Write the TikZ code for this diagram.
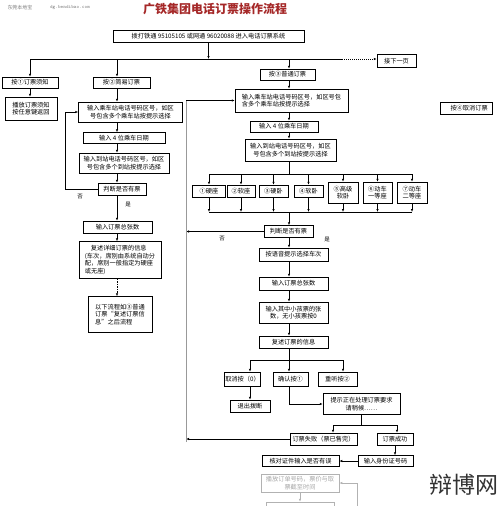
\documentclass[tikz,border=0pt]{standalone}
\usepackage{fontspec}
\usetikzlibrary{arrows.meta}
\newfontfamily\cjk{Noto Sans CJK SC}
\definecolor{titlered}{RGB}{165,40,40}

\begin{document}
\begin{tikzpicture}[x=1pt, y=-1pt,
    box/.style={draw, line width=.5pt, inner sep=1pt, align=center,
      font=\cjk\fontsize{6.2}{7.4}\selectfont},
    sz/.style 2 args={minimum width=#1pt, minimum height=#2pt},
    arr/.style={-{Latex[length=3pt,width=2.4pt]}, line width=.6pt},
    lbl/.style={font=\cjk\fontsize{5.5}{6}\selectfont},
    faded/.style={box, draw=black!30, text=black!35}]
    \useasboundingbox (0,0) rectangle (500,506);
    \clip (0,0) rectangle (500,506);

    % heading
    \node[font=\cjk\fontsize{5}{6}\selectfont, text=black!50] (site) at (20,8) {东莞本地宝};
    \node[font=\ttfamily\fontsize{5}{6}\selectfont, text=black!50] (url) at (70,8) {dg.bendibao.com};
    \node[font=\cjk\bfseries\fontsize{12}{14}\selectfont, text=titlered] (title) at (215,9)
      {广铁集团电话订票操作流程};

    \node[box, sz={191}{12}] (top) at (208.5,36)
      {拨打铁通 95105105 或网通 96020088 进入电话订票系统};
    \node[box, sz={39}{13}] (next) at (396.5,61) {接下一页};
    \node[box, sz={52}{12}] (cancel) at (466,108) {\quad 按④取消订票};

    % left columns
    \node[box, sz={56}{11}] (n1) at (30,82.5) {按①订票须知};
    \node[box, sz={52}{23}] (n1b) at (31,108.5) {播放订票须知\\按任意键返回};
    \node[box, sz={57}{11}] (s1) at (121.5,82.5) {按②简易订票};
    \node[box, sz={104}{20}] (s2) at (130.5,112)
      {输入乘车站电话号码区号，如区\\号包含多个乘车站按提示选择};
    \node[box, sz={82}{11}] (s3) at (124,138) {输入 4 位乘车日期};
    \node[box, sz={90}{20}] (s4) at (124,163)
      {输入到站电话号码区号，如区\\号包含多个到站按提示选择};
    \node[box, sz={48}{12}] (s5) at (122,189) {判断是否有票};
    \node[box, sz={69}{12}] (s6) at (117.5,227) {输入订票总张数};
    \node[box, sz={82}{37}, align=left] (s7) at (120,260)
      {\hspace*{6pt}复述详细订票的信息\\(车次，席别由系统自动分\\配，席别一般指定为硬座\\或无座)};
    \node[box, sz={64}{36}, align=left] (s8) at (120,314.5)
      {以下流程如③普通\\订票“复述订票信\\息”之后流程};

    % right column
    \node[box, sz={55}{11}] (r1) at (287.5,74.5) {按③普通订票};
    \node[box, sz={113}{23}, align=left] (r2) at (291.5,100.5)
      {输入乘车站电话号码区号，如区号包\\含多个乘车站按提示选择};
    \node[box, sz={68}{11}] (r3) at (284,126.5) {输入 4 位乘车日期};
    \node[box, sz={91}{22}] (r4) at (290.5,150)
      {输入到站电话号码区号，如区\\号包含多个到站按提示选择};
    \foreach \n/\x/\w/\h/\y/\t in {b1/209/33/12/191/{①硬座}, b2/241/28/12/191/{②软座},
      b3/273.5/29/12/191/{③硬卧}, b4/308.5/29/12/191/{④软卧},
      b5/343/30/21/192.5/{⑤高级\\软卧}, b6/377.5/29/21/192.5/{⑥动车\\一等座},
      b7/412/30/21/192.5/{⑦动车\\二等座}} {
      \node[box, sz={\w}{\h}] (\n) at (\x,\y) {\t};
    }
    \node[box, sz={49}{12}] (r5) at (288.5,231.5) {判断是否有票};
    \node[box, sz={69}{13}] (r6) at (293.5,254.5) {按语音提示选择车次};
    \node[box, sz={69}{13}] (r7) at (293.5,283.5) {输入订票总张数};
    \node[box, sz={69}{21}] (r8) at (293.5,312.5) {输入其中小孩票的张\\数，无小孩票按0};
    \node[box, sz={69}{12}] (r9) at (293.5,342) {复述订票的信息};
    \node[box, sz={35}{14}] (c1) at (242.5,379) {取消按（0）};
    \node[box, sz={35}{14}] (c2) at (290.5,379) {确认按①};
    \node[box, sz={39}{14}] (c3) at (337.5,379) {重听按②};
    \node[box, sz={40}{12}] (quit) at (250,406) {退出拨断};
    \node[box, sz={77}{21}] (proc) at (361.5,404) {提示正在处理订票要求\\请稍候……};
    \node[box, sz={67}{12}] (f1) at (323.5,439) {订票失败（票已售完）};
    \node[box, sz={36}{12}] (f2) at (395,439) {订票成功};
    \node[box, sz={55}{11}] (id) at (385.5,461) {输入身份证号码};
    \node[box, sz={77}{11}] (chk) at (300.5,461) {核对证件输入是否有误};
    \node[faded, sz={78}{18}] (play) at (300,483) {播放订单号码，票价与取\\票截至时间};
    \node[faded, sz={68}{16}] (more) at (300,510) {};

    \node[lbl] (no1) at (80,197) {否};
    \node[lbl] (yes1) at (128,205) {是};
    \node[lbl] (no2) at (222,239) {否};
    \node[lbl] (yes2) at (327,240) {是};
    \node[font=\cjk\fontsize{23}{25}\selectfont, text=black!80] (mark) at (464,485) {辩博网};

    % connectors
    \coordinate (hl) at (30,59);
    \coordinate (hr) at (342,59);
    \coordinate (sp1) at (117,0);
    \coordinate (sp2) at (289,0);
    \coordinate (lp) at (65,0);
    \coordinate (ret) at (186,442);
    \coordinate (br) at (0,174);
    \coordinate (mg) at (0,212);
    \coordinate (k1) at (250,360);
    \coordinate (k2) at (289,360);
    \coordinate (k3) at (343,360);
    \coordinate (j1) at (333,425);
    \coordinate (j2) at (397,425);
    \coordinate (gl) at (357,506);

    \draw[arr] (top.south) -- (top.south |- hl);
    \draw[line width=.6pt] (hl) -- (hr);
    \draw[arr, dash pattern=on 1pt off 1pt] (hr) -- (hr -| next.west);
    \draw[arr] (hl) -- (hl |- n1.north);
    \draw[arr] (hl -| sp1) -- (s1.north -| sp1);
    \draw[arr] (hl -| sp2) -- (r1.north -| sp2);

    \draw[arr] (n1.south) -- (n1.south |- n1b.north);
    \draw[arr] (s1.south -| sp1) -- (s2.north -| sp1);
    \draw[arr] (s2.south -| sp1) -- (s3.north -| sp1);
    \draw[arr] (s3.south -| sp1) -- (s4.north -| sp1);
    \draw[arr] (s4.south -| sp1) -- (s5.north -| sp1);
    \draw[arr] (s5.south -| sp1) -- (s6.north -| sp1);
    \draw[arr] (s6.south -| sp1) -- (s7.north -| sp1);
    \draw[arr, dash pattern=on 1.5pt off 1pt] (s7.south -| sp1) -- (s8.north -| sp1);
    \draw[arr] (s5.west) -- (s5.west -| lp) -- (lp |- s2.west) -- (s2.west);

    \draw[arr] (r1.south -| sp2) -- (r2.north -| sp2);
    \draw[arr] (r2.south -| sp2) -- (r3.north -| sp2);
    \draw[arr] (r3.south -| sp2) -- (r4.north -| sp2);
    \draw[line width=.6pt] (r4.south -| sp2) -- (sp2 |- br);
    \draw[line width=.6pt] (b1.north |- br) -- (b7.north |- br);
    \draw[line width=.6pt] (b1.south |- mg) -- (b7.south |- mg);
    \foreach \n in {b1,b2,b3,b4,b5,b6,b7} {
      \draw[arr] (\n.north |- br) -- (\n.north);
      \draw[arr] (\n.south) -- (\n.south |- mg);
    }
    \draw[arr] (sp2 |- mg) -- (r5.north -| sp2);
    \draw[arr] (r5.south -| sp2) -- (r6.north -| sp2);
    \draw[arr] (r6.south -| sp2) -- (r7.north -| sp2);
    \draw[arr] (r7.south -| sp2) -- (r8.north -| sp2);
    \draw[arr] (r8.south -| sp2) -- (r9.north -| sp2);
    \draw[line width=.6pt] (r9.south -| sp2) -- (k2);
    \draw[line width=.6pt] (k1) -- (k3);
    \foreach \k/\n in {k1/c1, k2/c2, k3/c3} {
      \draw[arr] (\k) -- (\k |- \n.north);
    }
    \draw[arr] (quit.north |- c1.south) -- (quit.north);
    \draw[arr] (c2.south -| k2) |- (proc.west);
    \draw[line width=.6pt] (proc.south) -- (proc.south |- j1);
    \draw[line width=.6pt] (j1) -- (j2);
    \draw[arr] (j1) -- (j1 |- f1.north);
    \draw[arr] (j2) -- (j2 |- f2.north);
    \draw[arr] (f2.south) -- (f2.south |- id.north);
    \draw[arr] (id.west) -- (chk.east);

    % return line
    \draw[arr] (r5.west) -- (r5.west -| ret);
    \draw[arr] (f1.west) -- (f1.west -| ret);
    \draw[black!40, line width=.6pt] (ret) -- (ret |- r2.west);
    \draw[arr] (ret |- r2.west) -- (r2.west);

    \draw[arr, black!30] (play.south) -- (more.north);
    \draw[arr, black!30] (gl) |- (play.east);
\end{tikzpicture}
\end{document}
